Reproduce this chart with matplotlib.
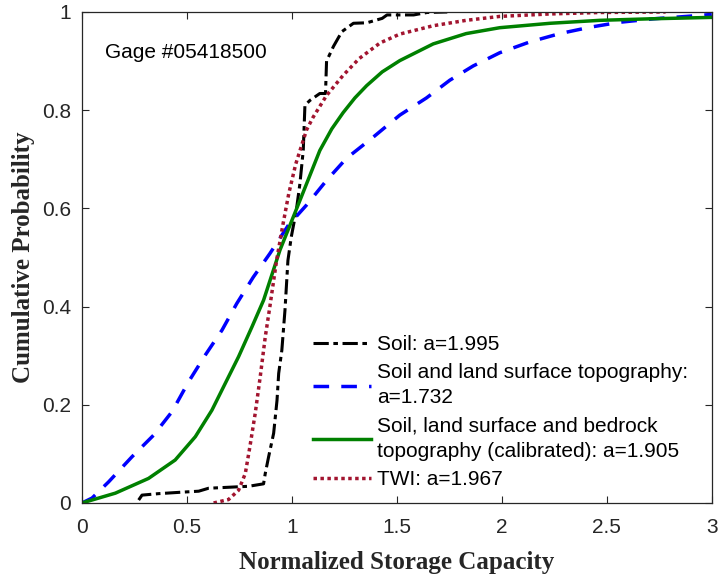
import matplotlib
matplotlib.use("Agg")
import matplotlib.pyplot as plt

# ---- data ----
soil_x = [0.27, 0.286, 0.365, 0.476, 0.556, 0.603, 0.698, 0.794, 0.865, 0.873, 0.889, 0.913,
          0.929, 0.937, 0.952, 0.967, 0.981, 0.997, 1.021, 1.038, 1.054, 1.062, 1.086, 1.133,
          1.16, 1.165, 1.198, 1.238, 1.293, 1.357, 1.43, 1.453, 1.58, 1.644, 1.74]
soil_y = [0.006, 0.016, 0.019, 0.022, 0.024, 0.030, 0.032, 0.034, 0.039, 0.060, 0.094, 0.142,
          0.209, 0.264, 0.311, 0.393, 0.494, 0.542, 0.596, 0.650, 0.718, 0.810, 0.820, 0.834,
          0.834, 0.900, 0.930, 0.960, 0.977, 0.978, 0.987, 0.994, 0.994, 0.999, 1.0]

topo_x = [0, 0.048, 0.127, 0.238, 0.341, 0.429, 0.508, 0.587, 0.667, 0.737, 0.816, 0.895,
          0.982, 1.07, 1.165, 1.26, 1.387, 1.514, 1.641, 1.752, 1.863, 1.99, 2.133, 2.276,
          2.42, 2.56, 2.72, 2.88, 3.0]
topo_y = [0, 0.010, 0.043, 0.094, 0.138, 0.186, 0.247, 0.301, 0.352, 0.406, 0.460, 0.508,
          0.565, 0.607, 0.657, 0.702, 0.745, 0.790, 0.825, 0.861, 0.890, 0.917, 0.939, 0.956,
          0.969, 0.979, 0.986, 0.991, 0.995]

bed_x = [0, 0.159, 0.317, 0.444, 0.54, 0.619, 0.683, 0.746, 0.81, 0.865, 0.943, 1.038, 1.133,
         1.19, 1.244, 1.30, 1.356, 1.43, 1.514, 1.673, 1.83, 1.99, 2.23, 2.467, 2.70, 3.0]
bed_y = [0, 0.020, 0.050, 0.0875, 0.135, 0.189, 0.244, 0.298, 0.359, 0.413, 0.515, 0.616, 0.718,
         0.762, 0.795, 0.825, 0.850, 0.878, 0.901, 0.935, 0.956, 0.968, 0.977, 0.983, 0.986, 0.989]

twi_x = [0.627, 0.698, 0.746, 0.778, 0.80, 0.825, 0.849, 0.873, 0.895, 0.927, 0.955, 0.985,
         1.018, 1.046, 1.07, 1.10, 1.165, 1.244, 1.32, 1.42, 1.514, 1.673, 1.83, 1.99, 2.23,
         2.467, 2.78]
twi_y = [0.0, 0.007, 0.026, 0.06, 0.115, 0.182, 0.257, 0.338, 0.40, 0.494, 0.562, 0.63,
         0.69, 0.728, 0.76, 0.785, 0.83, 0.871, 0.905, 0.937, 0.955, 0.972, 0.983, 0.991, 0.996,
         0.999, 1.0]

labels = ["Soil: a=1.995",
          "Soil and land surface topography:\na=1.732",
          "Soil, land surface and bedrock\ntopography (calibrated): a=1.905",
          "TWI: a=1.967"]
xticks = [0, 0.5, 1, 1.5, 2, 2.5, 3]
xticklabels = ["0", "0.5", "1", "1.5", "2", "2.5", "3"]
yticks = [0, 0.2, 0.4, 0.6, 0.8, 1]
yticklabels = ["0", "0.2", "0.4", "0.6", "0.8", "1"]

fig = plt.figure(figsize=(7.19, 5.79), dpi=100)
ax = fig.add_axes([0.114, 0.1313, 0.876, 0.848])

ax.plot(soil_x, soil_y, color="black", lw=2.2, linestyle=(0, (5, 1.5, 1.5, 1.5)), label=labels[0])
ax.plot(topo_x, topo_y, color="#0000FF", lw=2.5, linestyle=(0, (4.5, 3.5)), label=labels[1])
ax.plot(bed_x, bed_y, color="#008000", lw=2.5, linestyle="-", label=labels[2])
ax.plot(twi_x, twi_y, color="#A2142F", lw=2.5, linestyle=(0, (1, 1)), label=labels[3])

ax.set_xlim(0, 3)
ax.set_ylim(0, 1)
ax.set_xticks(xticks)
ax.set_xticklabels(xticklabels)
ax.set_yticks(yticks)
ax.set_yticklabels(yticklabels)

tick_color = "#262626"
ax.tick_params(direction="in", length=5, width=0.8, top=True, right=True,
               labelsize=15, colors=tick_color)
ax.tick_params(axis="x", pad=11)
ax.tick_params(axis="y", pad=8)
for lab in ax.get_xticklabels() + ax.get_yticklabels():
    lab.set_family("Liberation Sans")
for s in ax.spines.values():
    s.set_color(tick_color)
    s.set_linewidth(0.9)

ax.set_xlabel("Normalized Storage Capacity", family="Liberation Serif", fontweight="bold",
              fontsize=18, color=tick_color, labelpad=10)
ax.set_ylabel("Cumulative Probability", family="Liberation Serif", fontweight="bold",
              fontsize=18, color=tick_color, labelpad=5)

ax.text(0.11, 0.918, "Gage #05418500", family="Liberation Sans", fontsize=15,
        ha="left", va="center", color="black")

leg = ax.legend(loc="upper left", bbox_to_anchor=(0.367, 0.342), frameon=False,
                prop={"family": "Liberation Sans", "size": 15},
                handlelength=2.8, handletextpad=0.25, borderpad=0, borderaxespad=0,
                labelspacing=0.45)
for t in leg.get_texts():
    t.set_linespacing(1.4)

fig.savefig("out.png", dpi=100)
